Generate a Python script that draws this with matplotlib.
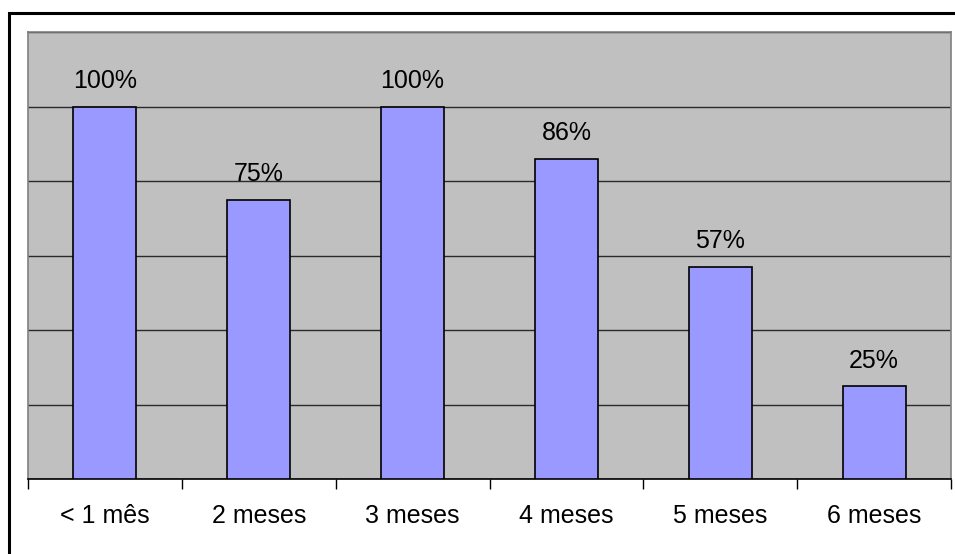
import matplotlib.pyplot as plt
from matplotlib.patches import Rectangle
import numpy as np

plt.rcParams['font.family'] = ['Liberation Sans', 'DejaVu Sans']

categories = ['< 1 mês', '2 meses', '3 meses', '4 meses', '5 meses', '6 meses']
values = [100, 75, 100, 86, 57, 25]
labels = ['100%', '75%', '100%', '86%', '57%', '25%']

W, H = 955, 554
fig = plt.figure(figsize=(W / 100, H / 100), dpi=100)
ax = fig.add_axes([28 / W, 1 - 479 / H, (951 - 28) / W, (479 - 32) / H])
ax.set_facecolor('#C0C0C0')

x = np.arange(len(categories))
bars = ax.bar(x, values, width=0.41, color='#9999FF', edgecolor='black', linewidth=1.2, zorder=3)

for b, lab in zip(bars, labels):
    ax.annotate(lab, (b.get_x() + b.get_width() / 2, b.get_height()),
                xytext=(0, 9.5), textcoords='offset points',
                ha='center', va='bottom', fontsize=18)

ax.set_xlim(-0.5, len(categories) - 0.5)
ax.set_ylim(0, 120)
ax.set_yticks(np.arange(0, 121, 20))
ax.yaxis.grid(True, color='#2a2a2a', linewidth=1.0, zorder=0)
ax.set_axisbelow(True)
ax.tick_params(axis='y', left=False, labelleft=False)

# boundaries get the tick marks, centres get the labels
ax.set_xticks(np.arange(-0.5, len(categories), 1.0))
ax.set_xticklabels([])
ax.tick_params(axis='x', which='major', direction='out', length=7, width=1, color='black')
ax.set_xticks(x, minor=True)
ax.set_xticklabels(categories, minor=True, fontsize=18)
ax.tick_params(axis='x', which='minor', length=0, pad=18)

for side in ['left', 'top', 'right']:
    ax.spines[side].set_color('#808080')
    ax.spines[side].set_linewidth(1.2)
ax.spines['bottom'].set_color('black')
ax.spines['bottom'].set_linewidth(1.2)

# outer frame, partly off the canvas
frame = Rectangle((8.5 / W, -0.1), 1.2, 1 - 13 / H + 0.1, transform=fig.transFigure,
                  fill=False, edgecolor='black', linewidth=2.2, clip_on=False)
fig.patches.append(frame)

fig.savefig('out.png', dpi=100)
